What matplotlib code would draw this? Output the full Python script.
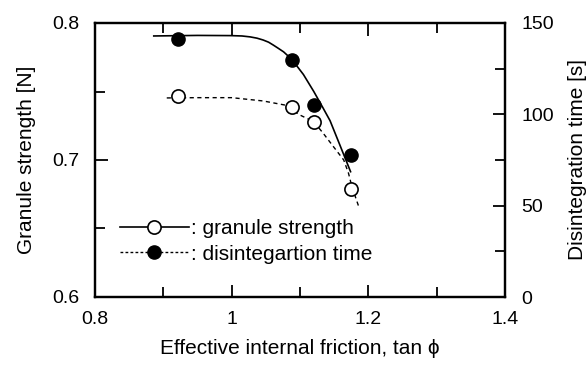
import matplotlib
matplotlib.use("Agg")
import matplotlib.pyplot as plt
from matplotlib.lines import Line2D
from matplotlib.ticker import MultipleLocator, FuncFormatter

plt.rcParams['font.family'] = ['Liberation Sans', 'DejaVu Sans']

# measured points
tan_phi = [0.921, 1.088, 1.121, 1.174]
granule_strength = [0.747, 0.739, 0.728, 0.679]        # open circles, left axis [N]
disintegration_time = [141, 130, 105, 78]             # filled circles, right axis [s]

# fitted curves
fit_strength_x = [0.905, 0.95, 1.00, 1.046, 1.078, 1.100, 1.120, 1.134, 1.149, 1.164, 1.171, 1.176, 1.186]
fit_strength_y = [0.7453, 0.7455, 0.7455, 0.7431, 0.7401, 0.7328, 0.7280, 0.7195, 0.7097, 0.7000, 0.6903, 0.6805, 0.6659]
fit_time_x = [0.886, 0.95, 0.998, 1.015, 1.027, 1.037, 1.046, 1.054, 1.061, 1.068, 1.076, 1.088, 1.105, 1.120, 1.134, 1.144, 1.159, 1.174]
fit_time_y = [142.9, 143.2, 143.1, 142.9, 142.4, 141.7, 140.7, 139.5, 137.9, 136.2, 134.2, 130.1, 121.8, 112.6, 103.3, 96.5, 82.6, 68.6]

legend_labels = [': granule strength', ': disintegartion time']

fig = plt.figure(figsize=(5.86, 3.68), dpi=100)
ax = fig.add_axes([95/586, 1-297/368, 410/586, 274/368])
ax2 = ax.twinx()

ax.plot(fit_strength_x, fit_strength_y, color='black', lw=1.0, ls=(0, (3, 2.5)))
ax.plot(tan_phi, granule_strength, ls='none', marker='o', ms=9.5,
        mfc='white', mec='black', mew=1.2)
ax2.plot(fit_time_x, fit_time_y, color='black', lw=1.2, ls='-')
ax2.plot(tan_phi, disintegration_time, ls='none', marker='o', ms=9.5,
         mfc='black', mec='black')

ax.set_xlim(0.8, 1.4)
ax.set_ylim(0.6, 0.8)
ax2.set_ylim(0, 150)
ax.xaxis.set_major_locator(MultipleLocator(0.2))
ax.xaxis.set_minor_locator(MultipleLocator(0.1))
ax.yaxis.set_major_locator(MultipleLocator(0.1))
ax.yaxis.set_minor_locator(MultipleLocator(0.05))
ax2.yaxis.set_major_locator(MultipleLocator(50))
ax2.yaxis.set_minor_locator(MultipleLocator(25))
ax.xaxis.set_major_formatter(FuncFormatter(lambda v, p: f"{v:g}"))
ax.yaxis.set_major_formatter(FuncFormatter(lambda v, p: f"{v:.1f}"))
ax2.yaxis.set_major_formatter(FuncFormatter(lambda v, p: f"{v:g}"))

tfs = 14
lfs = 15
ax.tick_params(axis='x', which='both', direction='in', top=True, labelsize=tfs, pad=10)
ax.tick_params(axis='y', which='both', direction='in', right=False, labelsize=tfs, pad=11)
ax2.tick_params(axis='y', which='both', direction='in', left=False, labelsize=tfs, pad=12)
for a in (ax, ax2):
    a.tick_params(which='major', length=9, width=1.3)
    a.tick_params(which='minor', length=7, width=1.3)
    for s in a.spines.values():
        s.set_linewidth(1.6)

ax.set_xlabel('Effective internal friction, tan \u03d5', fontsize=lfs, labelpad=8)
ax.set_ylabel('Granule strength [N]', fontsize=lfs, labelpad=12)
ax2.set_ylabel('Disintegration time [s]', fontsize=lfs, labelpad=10)

handles = [
    Line2D([], [], color='black', lw=1.2, ls='-', marker='o', ms=9.5, mfc='white', mec='black', mew=1.2),
    Line2D([], [], color='black', lw=1.0, ls=(0, (2, 1.6)), marker='o', ms=9.5, mfc='black', mec='black'),
]
ax.legend(handles, legend_labels, loc='upper left', bbox_to_anchor=(0.061, 0.285),
          frameon=False, fontsize=lfs, handlelength=3.3, handletextpad=0.1,
          labelspacing=0.32, borderpad=0, borderaxespad=0)

fig.savefig('out.png', dpi=100)
